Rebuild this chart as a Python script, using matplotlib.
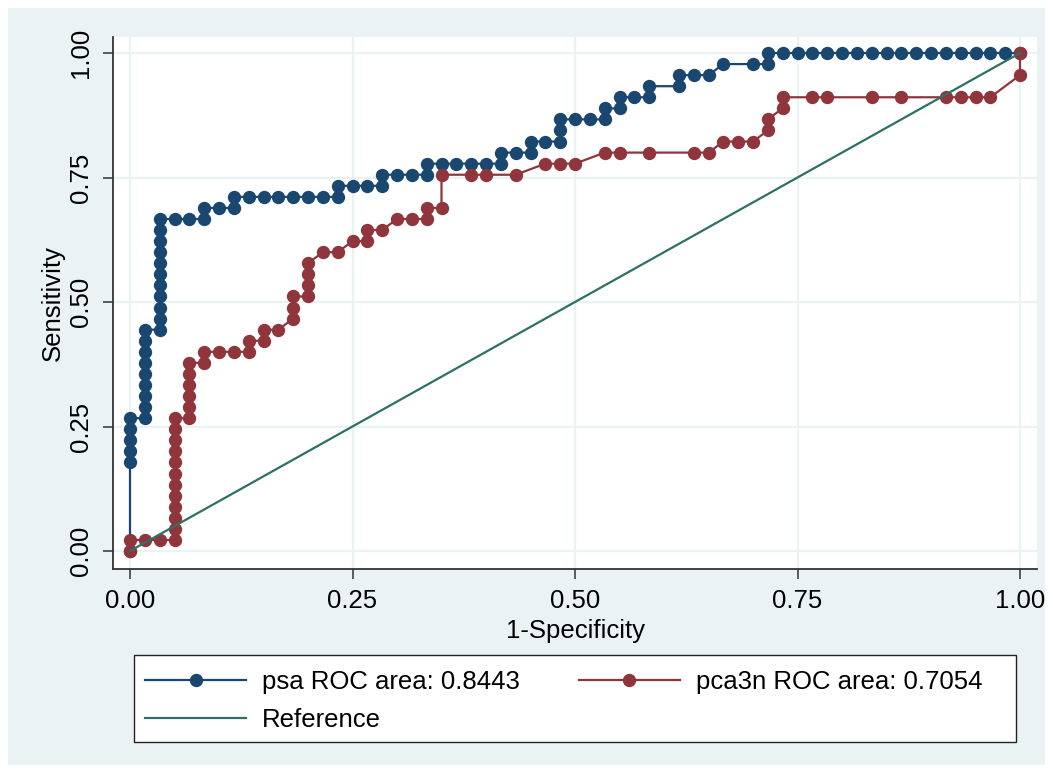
import numpy as np
import matplotlib
matplotlib.use('Agg')
from matplotlib import pyplot as plt
from matplotlib.patches import Rectangle

plt.rcParams['font.family'] = ['Liberation Sans', 'DejaVu Sans']

# ROC points, as counts (false positives out of 60 negatives,
# true positives out of 45 positives)
n_neg = 60
n_pos = 45

psa_fp = [0, 0, 0, 0, 0, 0,
          1, 1, 1, 1, 1, 1, 1, 1, 1,
          2, 2, 2, 2, 2, 2, 2, 2, 2, 2, 2,
          3, 4, 5, 5, 6, 7, 7,
          8, 9, 10, 11, 12, 13,
          14, 14, 15, 16, 17, 17, 18, 19, 20, 20,
          21, 22, 23, 24, 25, 25, 26, 27, 27, 28,
          29, 29, 29, 30, 31, 32, 32, 33, 33, 34, 35, 35,
          37, 37, 38, 39, 40, 42, 43, 43,
          44, 45, 46, 47, 48, 49, 50, 51, 52, 53, 54, 55, 56, 57, 58, 59, 60]
psa_tp = [0, 8, 9, 10, 11, 12,
          12, 13, 14, 15, 16, 17, 18, 19, 20,
          20, 21, 22, 23, 24, 25, 26, 27, 28, 29, 30,
          30, 30, 30, 31, 31, 31, 32,
          32, 32, 32, 32, 32, 32,
          32, 33, 33, 33, 33, 34, 34, 34, 34, 35,
          35, 35, 35, 35, 35, 36, 36, 36, 37, 37,
          37, 38, 39, 39, 39, 39, 40, 40, 41, 41, 41, 42,
          42, 43, 43, 43, 44, 44, 44, 45,
          45, 45, 45, 45, 45, 45, 45, 45, 45, 45, 45, 45, 45, 45, 45, 45, 45]

pca_fp = [0, 0, 1, 2,
          3, 3, 3, 3, 3, 3, 3, 3, 3, 3, 3, 3,
          4, 4, 4, 4, 4, 4,
          5, 5, 6, 7, 8, 8, 9, 9, 10,
          11, 11, 11, 12, 12, 12, 12, 13, 14,
          15, 16, 16, 17, 18, 19, 20, 20, 21, 21,
          23, 24, 26, 28, 29, 30, 32, 33, 35, 38, 39,
          40, 41, 42, 43, 43, 44, 44,
          46, 47, 50, 52, 55, 56, 57, 58, 60, 60]
pca_tp = [0, 1, 1, 1,
          1, 2, 3, 4, 5, 6, 7, 8, 9, 10, 11, 12,
          12, 13, 14, 15, 16, 17,
          17, 18, 18, 18, 18, 19, 19, 20, 20,
          21, 22, 23, 23, 24, 25, 26, 27, 27,
          28, 28, 29, 29, 30, 30, 30, 31, 31, 34,
          34, 34, 34, 35, 35, 35, 36, 36, 36, 36, 36,
          37, 37, 37, 38, 39, 40, 41,
          41, 41, 41, 41, 41, 41, 41, 41, 43, 45]

ref_x = [0, 1]
ref_y = [0, 1]

labels = ['psa ROC area: 0.8443', 'pca3n ROC area: 0.7054', 'Reference']
ticks = [0, 0.25, 0.5, 0.75, 1.0]
tick_labels = ['0.00', '0.25', '0.50', '0.75', '1.00']

blue = '#1a476f'
red = '#90353b'
green = '#2e6f66'
bg = '#eaf2f3'

W, H = 1053, 773
fig = plt.figure(figsize=(W / 100, H / 100), dpi=100)
fig.patch.set_facecolor('white')
fig.patches.append(Rectangle((8 / W, 1 - 765 / H), (1045 - 8) / W, (765 - 8) / H,
                             transform=fig.transFigure, facecolor=bg,
                             edgecolor='none', zorder=-10))

ax = fig.add_axes([113 / W, 1 - 569 / H, (1037 - 113) / W, (569 - 37) / H])
ax.set_facecolor('white')

x_psa = np.array(psa_fp) / n_neg
y_psa = np.array(psa_tp) / n_pos
x_pca = np.array(pca_fp) / n_neg
y_pca = np.array(pca_tp) / n_pos

h1, = ax.plot(x_psa, y_psa, color=blue, lw=1.6, marker='o', ms=9.6,
              mew=0, zorder=3)
h2, = ax.plot(x_pca, y_pca, color=red, lw=1.6, marker='o', ms=9.6,
              mew=0, zorder=4)
h3, = ax.plot(ref_x, ref_y, color=green, lw=1.6, zorder=5)

ax.set_xlim((113 - 130) / 890, (1037 - 130) / 890)
ax.set_ylim((551 - 569) / 498, (551 - 37) / 498)

ax.set_xticks(ticks)
ax.set_xticklabels(tick_labels)
ax.set_yticks(ticks)
ax.set_yticklabels(tick_labels, rotation=90, va='center')
ax.grid(True, color=bg, lw=1.6, zorder=0)
ax.set_axisbelow(True)

for s in ['top', 'right']:
    ax.spines[s].set_visible(False)
for s in ['left', 'bottom']:
    ax.spines[s].set_color('#333333')
    ax.spines[s].set_linewidth(1.3)

ax.tick_params(axis='both', direction='out', length=7.5, width=1.1,
               color='#333333', labelsize=18.5, pad=7)
ax.set_xlabel('1-Specificity', fontsize=18.5, labelpad=4)
ax.set_ylabel('Sensitivity', fontsize=18.5, labelpad=3)

# legend box
fig.patches.append(Rectangle((134 / W, 1 - 742 / H), (1016 - 134) / W, (742 - 655) / H,
                             transform=fig.transFigure, facecolor='white',
                             edgecolor='#222222', lw=1.0, zorder=1))
leg = fig.legend([h1, h3, h2], [labels[0], labels[2], labels[1]], ncol=2,
                 loc='upper left', bbox_to_anchor=(134 / W, 1 - 659 / H),
                 frameon=False, fontsize=18.5, handlelength=3.93,
                 handletextpad=0.62, borderpad=0.43, labelspacing=0.53,
                 columnspacing=2.3, numpoints=1, borderaxespad=0)

fig.savefig('out.png', dpi=100)
